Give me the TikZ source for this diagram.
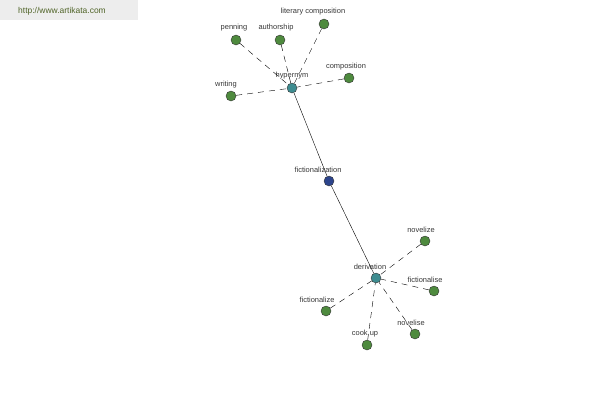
\documentclass[tikz,border=0pt]{standalone}
\usepackage{fontspec}
\setmainfont{Liberation Sans}
\usepackage{tikz}
\usetikzlibrary{arrows,shapes,positioning}
\definecolor{leafgreen}{RGB}{78,138,62}
\definecolor{hubteal}{RGB}{62,140,144}
\definecolor{rootblue}{RGB}{44,68,140}
\definecolor{labelgray}{RGB}{55,55,55}
\definecolor{sitegreen}{RGB}{80,100,40}
\tikzstyle{leaf}=[circle,draw=black!80,fill=leafgreen,inner sep=0pt,minimum size=10bp]
\tikzstyle{hub}=[circle,draw=black!80,fill=hubteal,inner sep=0pt,minimum size=10bp]
\tikzstyle{root}=[circle,draw=black!80,fill=rootblue,inner sep=0pt,minimum size=10bp]
\tikzstyle{word}=[inner sep=0pt,text=labelgray,font=\fontsize{7.5}{8.5}\selectfont]
\tikzstyle{rel}=[dash pattern=on 6bp off 5bp,black]

\begin{document}
\begin{tikzpicture}[>=latex,line join=bevel,x=1bp,y=-1bp]
	  \useasboundingbox (0,0) rectangle (600,400);
	  \fill[black!7] (0,0) rectangle (138,20);
	  \node (site) at (62,11) [word,text=sitegreen,font=\fontsize{8.5}{9.5}\selectfont] {http://www.artikata.com};
	  \node (HY) at (292,88) [hub] {};
	  \node (FZ) at (329,181) [root] {};
	  \node (DE) at (376,278) [hub] {};
	  \node (PE) at (236,40) [leaf] {};
	  \node (AU) at (280,40) [leaf] {};
	  \node (LC) at (324,24) [leaf] {};
	  \node (CO) at (349,78) [leaf] {};
	  \node (WR) at (231,96) [leaf] {};
	  \node (NZ) at (425,241) [leaf] {};
	  \node (FS) at (434,291) [leaf] {};
	  \node (NS) at (415,334) [leaf] {};
	  \node (CU) at (367,345) [leaf] {};
	  \node (FI) at (326,311) [leaf] {};
	  \node (HY-l) at (292,76) [word] {hypernym};
	  \node (FZ-l) at (318,170) [word] {fictionalization};
	  \node (DE-l) at (370,267) [word] {derivation};
	  \node (PE-l) at (234,28) [word] {penning};
	  \node (AU-l) at (276,28) [word] {authorship};
	  \node (LC-l) at (313,12) [word] {literary composition};
	  \node (CO-l) at (346,67) [word] {composition};
	  \node (WR-l) at (226,85) [word] {writing};
	  \node (NZ-l) at (421,230) [word] {novelize};
	  \node (FS-l) at (425,280) [word] {fictionalise};
	  \node (NS-l) at (411,323) [word] {novelise};
	  \node (CU-l) at (365,334) [word] {cook up};
	  \node (FI-l) at (317,300) [word] {fictionalize};
	  \draw [] (HY) -- (FZ);
	  \draw [] (FZ) -- (DE);
	  \draw [rel] (PE) -- (HY);
	  \draw [rel] (AU) -- (HY);
	  \draw [rel] (LC) -- (HY);
	  \draw [rel] (CO) -- (HY);
	  \draw [rel] (WR) -- (HY);
	  \draw [rel] (NZ) -- (DE);
	  \draw [rel] (FS) -- (DE);
	  \draw [rel] (NS) -- (DE);
	  \draw [rel] (CU) -- (DE);
	  \draw [rel] (FI) -- (DE);
    %
    \end{tikzpicture}
\end{document}
